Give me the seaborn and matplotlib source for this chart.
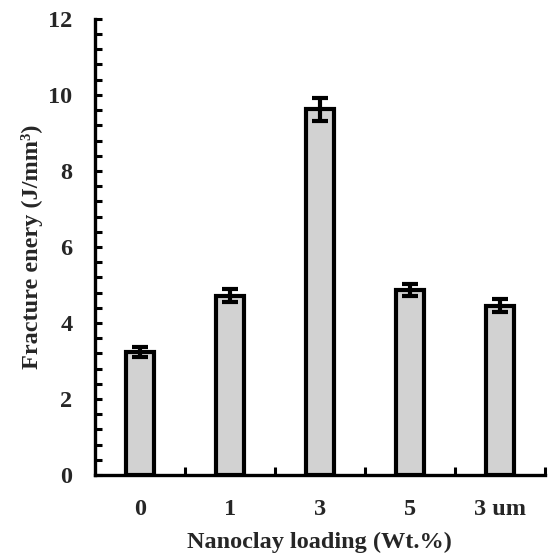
import matplotlib
matplotlib.use("Agg")
import matplotlib.pyplot as plt
import seaborn as sns
import pandas as pd
from matplotlib.ticker import MultipleLocator, FixedLocator

categories = ["0", "1", "3", "5", "3 um"]
values = [3.24, 4.72, 9.62, 4.87, 4.46]
errors = [0.14, 0.17, 0.30, 0.16, 0.16]
y_ticks = [0, 2, 4, 6, 8, 10, 12]

sns.set_theme(style="white")
plt.rcParams["font.family"] = ["Liberation Serif", "DejaVu Serif"]
plt.rcParams["font.weight"] = "bold"

df = pd.DataFrame({"loading": categories, "energy": values})

fig = plt.figure(figsize=(5.51, 5.55), dpi=100)
ax = fig.add_axes([0.172, 0.144, 0.817, 0.822])

sns.barplot(data=df, x="loading", y="energy", order=categories, ax=ax,
            color="#d2d2d2", width=0.31, edgecolor="black", linewidth=3,
            saturation=1, errorbar=None)
ax.errorbar(range(len(categories)), values, yerr=errors, fmt="none",
            ecolor="black", elinewidth=3, capsize=6, capthick=3, zorder=5)

ax.set_xlim(-0.5, 4.5)
ax.set_ylim(0, 12)
ax.set_yticks(y_ticks)
ax.yaxis.set_minor_locator(MultipleLocator(0.4))
ax.xaxis.set_major_locator(FixedLocator(range(len(categories))))
ax.set_xticklabels(categories)
ax.xaxis.set_minor_locator(FixedLocator([0.5, 1.5, 2.5, 3.5, 4.5]))

for s in ["top", "right"]:
    ax.spines[s].set_visible(False)
for s in ["left", "bottom"]:
    ax.spines[s].set_color("black")
    ax.spines[s].set_linewidth(2.4)

ax.tick_params(axis="y", which="both", direction="in", length=5, width=2.2,
               color="black", left=True, labelsize=17.5, pad=16)
ax.tick_params(axis="x", which="major", length=0, labelsize=17.5, pad=17)
ax.tick_params(axis="x", which="minor", direction="in", length=6, width=2.2,
               color="black", bottom=True)

ax.set_xlabel("Nanoclay loading (Wt.%)", fontsize=17.5, fontweight="bold", labelpad=9)
ax.set_ylabel("Fracture enery (J/mm³)", fontsize=17.5, fontweight="bold")
ax.yaxis.set_label_coords(-0.115, 0.5)
for lab in ax.get_xticklabels() + ax.get_yticklabels():
    lab.set_fontweight("bold")

fig.savefig("out.png", dpi=100, facecolor="white")
